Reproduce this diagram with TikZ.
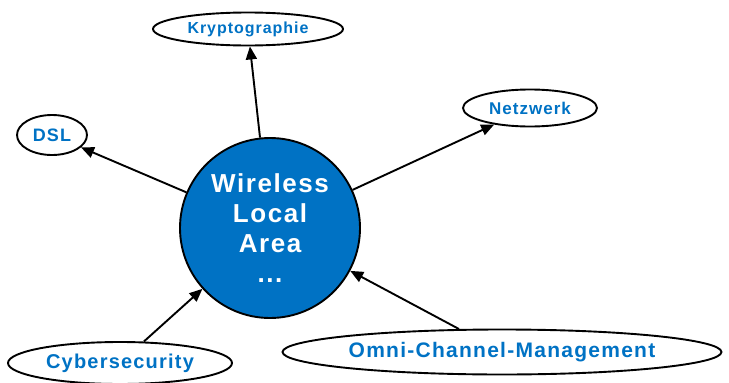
\documentclass[tikz,border=0pt]{standalone}
\usepackage{fontspec}
\setmainfont{Liberation Sans}[LetterSpace=6]
\usetikzlibrary{shapes.geometric,arrows.meta}
\definecolor{wlanblue}{RGB}{0,114,196}
\tikzset{
  topic/.style={draw, ellipse, line width=1.9pt, inner sep=0pt, text=wlanblue, font=\bfseries},
  hub/.style={draw, circle, line width=1.9pt, fill=wlanblue, text=white, minimum size=180pt, inner sep=0pt, align=center, font=\fontsize{26}{30}\selectfont\bfseries},
  link/.style={line width=1.9pt, -{Triangle[length=13pt,width=11pt]}}
}
\begin{document}
\begin{tikzpicture}[x=1pt,y=-1pt]
        \useasboundingbox (0,0) rectangle (729,383);
        \node[hub] (W) at (270, 228) {Wireless\\Local\\Area\\...};
        \node[topic, minimum width=190pt, minimum height=33pt, font=\fontsize{16}{19}\selectfont\bfseries] (K) at (248, 29) {Kryptographie};
        \node[topic, minimum width=70pt, minimum height=40pt, font=\fontsize{18}{21}\selectfont\bfseries] (D) at (52, 135) {DSL};
        \node[topic, minimum width=134pt, minimum height=37pt, font=\fontsize{17}{20}\selectfont\bfseries] (N) at (530, 108) {Netzwerk};
        \node[topic, minimum width=224pt, minimum height=42pt, font=\fontsize{20}{24}\selectfont\bfseries] (C) at (120, 363) {Cybersecurity};
        \node[topic, minimum width=439pt, minimum height=45pt, font=\fontsize{21}{25}\selectfont\bfseries] (O) at (502, 352) {Omni-Channel-Management};

        \draw[link] (W) -- (K);
        \draw[link] (W) -- (D);
        \draw[link] (W) -- (N);
        \draw[link] (C) -- (W);
        \draw[link] (O) -- (W);
    \end{tikzpicture}
\end{document}
